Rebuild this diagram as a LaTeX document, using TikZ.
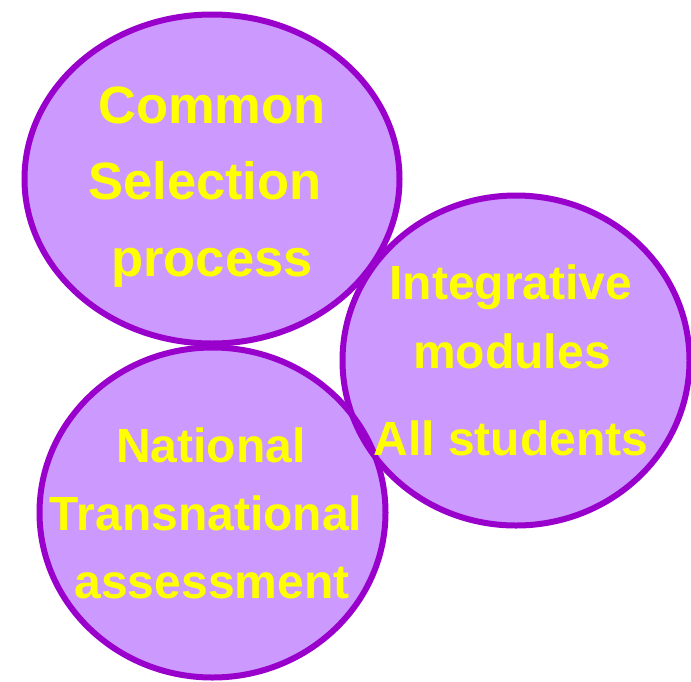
\documentclass[tikz,border=0pt]{standalone}
\usepackage{fontspec}
\setmainfont{Liberation Sans}
\definecolor{ellfill}{HTML}{CC99FF}
\definecolor{elldraw}{HTML}{9900CC}
\definecolor{txtyellow}{HTML}{FFFF00}
\begin{document}
\begin{tikzpicture}[x=1pt,y=-1pt,
  bubblefill/.style={fill=ellfill},
  bubbleline/.style={draw=elldraw,line width=6pt},
  bigtxt/.style={text=txtyellow,font=\fontsize{52.5}{60}\selectfont\bfseries,anchor=base,inner sep=0pt},
  midtxt/.style={text=txtyellow,font=\fontsize{48}{56}\selectfont\bfseries,anchor=base,inner sep=0pt}]
\useasboundingbox[fill=white] (0,0) rectangle (691,681);
% fills
\fill[bubblefill] (212,179) ellipse [x radius=187.5pt, y radius=164.5pt];
\fill[bubblefill] (516,360.5) ellipse [x radius=173.5pt, y radius=165pt];
\fill[bubblefill] (212.5,512.5) ellipse [x radius=173pt, y radius=165pt];
% outlines
\draw[bubbleline] (212,179) ellipse [x radius=187.5pt, y radius=164.5pt];
\draw[bubbleline] (516,360.5) ellipse [x radius=173.5pt, y radius=165pt];
\draw[bubbleline] (212.5,512.5) ellipse [x radius=173pt, y radius=165pt];
% texts
\node[bigtxt] (c1) at (212,123) {Common};
\node[bigtxt] (c2) at (205,199) {Selection};
\node[bigtxt] (c3) at (212,276) {process};
\node[midtxt] (i1) at (511,299) {Integrative};
\node[midtxt] (i2) at (512,368) {modules};
\node[midtxt] (i3) at (511,455) {All students};
\node[midtxt] (n1) at (211,462) {National};
\node[midtxt] (n2) at (206,530) {Transnational};
\node[midtxt] (n3) at (212,598) {assessment};
\end{tikzpicture}
\end{document}
